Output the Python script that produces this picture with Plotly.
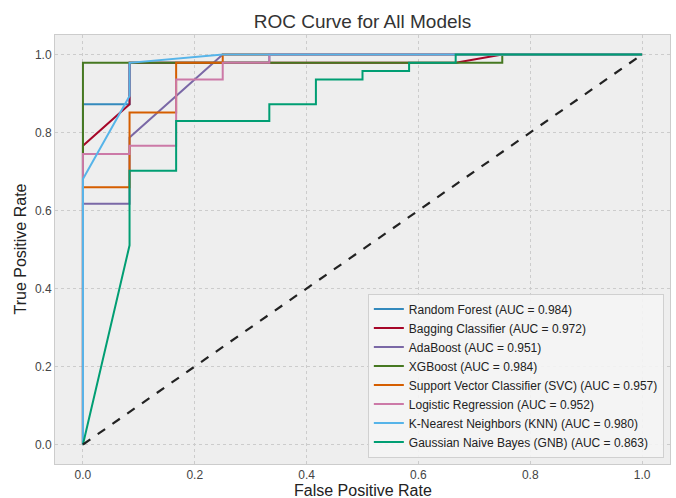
import plotly.graph_objects as go

# ROC data (FPR on 12 negatives, TPR on 47 positives)
model_names = ["Random Forest", "Bagging Classifier", "AdaBoost", "XGBoost",
               "Support Vector Classifier (SVC)", "Logistic Regression",
               "K-Nearest Neighbors (KNN)", "Gaussian Naive Bayes (GNB)"]
auc_values = [0.984, 0.972, 0.951, 0.984, 0.957, 0.952, 0.980, 0.863]

rf_fpr = [0, 0, 1/12, 1/12, 1/3, 1/3, 1]
rf_tpr = [0, 41/47, 41/47, 46/47, 46/47, 1, 1]

bag_fpr = [0, 0, 1/12, 1/12, 2/3, 3/4, 1]
bag_tpr = [0, 36/47, 41/47, 46/47, 46/47, 1, 1]

ada_fpr = [0, 0, 1/12, 1/12, 1/4, 1]
ada_tpr = [0, 29/47, 29/47, 37/47, 1, 1]

xgb_fpr = [0, 0, 3/4, 3/4, 1]
xgb_tpr = [0, 46/47, 46/47, 1, 1]

svc_fpr = [0, 0, 1/12, 1/12, 1/6, 1/6, 1/4, 1/4, 1]
svc_tpr = [0, 31/47, 31/47, 40/47, 40/47, 46/47, 46/47, 1, 1]

lr_fpr = [0, 0, 1/12, 1/12, 1/6, 1/6, 1/4, 1/4, 1/3, 1/3, 1]
lr_tpr = [0, 35/47, 35/47, 36/47, 36/47, 44/47, 44/47, 46/47, 46/47, 1, 1]

knn_fpr = [0, 0, 1/12, 1/12, 1/4, 1]
knn_tpr = [0, 32/47, 42/47, 46/47, 1, 1]

gnb_fpr = [0, 1/12, 1/12, 1/6, 1/6, 1/3, 1/3, 5/12, 5/12, 1/2, 1/2, 7/12, 7/12, 2/3, 2/3, 1]
gnb_tpr = [0, 24/47, 33/47, 33/47, 39/47, 39/47, 41/47, 41/47, 44/47, 44/47, 45/47, 45/47, 46/47, 46/47, 1, 1]

colors = ["#348ABD", "#A60628", "#7A68A6", "#467821", "#D55E00", "#CC79A7", "#56B4E9", "#009E73"]

curves = [(rf_fpr, rf_tpr), (bag_fpr, bag_tpr), (ada_fpr, ada_tpr), (xgb_fpr, xgb_tpr),
          (svc_fpr, svc_tpr), (lr_fpr, lr_tpr), (knn_fpr, knn_tpr), (gnb_fpr, gnb_tpr)]

x_ticks = [0.0, 0.2, 0.4, 0.6, 0.8, 1.0]
y_ticks = [0.0, 0.2, 0.4, 0.6, 0.8, 1.0]

fig = go.Figure()
for name, auc, col, (fx, ty) in zip(model_names, auc_values, colors, curves):
    fig.add_trace(go.Scatter(x=fx, y=ty, mode="lines",
                             name=f"{name} (AUC = {auc:.3f})",
                             line=dict(color=col, width=2)))
fig.add_trace(go.Scatter(x=[0, 1], y=[0, 1], mode="lines", showlegend=False,
                         line=dict(color="#222222", width=2.2, dash="dash")))

font = "Liberation Sans, Arial, sans-serif"
W, H = 676, 498
ml, mr, mt, mb = 55, 6, 35, 34
fig.update_layout(
    width=W, height=H,
    margin=dict(l=ml, r=mr, t=mt, b=mb, autoexpand=False),
    paper_bgcolor="white", plot_bgcolor="#EEEEEE",
    font=dict(family=font, color="#333333"),
    title=dict(text="ROC Curve for All Models", x=(ml + (W - ml - mr) / 2) / W, xanchor="center",
               y=1 - 21 / H, yanchor="middle", yref="container", automargin=False,
               font=dict(size=19, color="#333333")),
    showlegend=True,
    legend=dict(x=0.99, y=0.015, xanchor="right", yanchor="bottom",
                bgcolor="rgba(244,244,244,0.9)", bordercolor="#d0d0d0", borderwidth=1,
                font=dict(size=12, color="#222222"), itemwidth=30,
                tracegroupgap=0),
    annotations=[
        dict(text="False Positive Rate", xref="paper", yref="paper",
             x=0.5, y=-(490 - (H - mb)) / (H - mt - mb), xanchor="center", yanchor="middle",
             showarrow=False, font=dict(size=16, color="#222222")),
        dict(text="True Positive Rate", xref="paper", yref="paper",
             x=-(ml - 20) / (W - ml - mr), y=0.5, xanchor="center", yanchor="middle",
             textangle=-90, showarrow=False, font=dict(size=16, color="#222222")),
    ],
)
fig.update_xaxes(range=[-0.05, 1.05], tickvals=x_ticks, tickformat=".1f", automargin=False,
                 showgrid=True, gridcolor="#cccccc", griddash="dot", gridwidth=1,
                 zeroline=False, showline=True, linecolor="#cccccc", mirror=True,
                 ticks="", tickfont=dict(size=12, color="#444444"))
fig.update_yaxes(range=[-0.05, 1.05], tickvals=y_ticks, tickformat=".1f", automargin=False,
                 showgrid=True, gridcolor="#cccccc", griddash="dot", gridwidth=1,
                 zeroline=False, showline=True, linecolor="#cccccc", mirror=True,
                 ticks="", tickfont=dict(size=12, color="#444444"))

fig.write_html("out.html", config={"displayModeBar": False},
               post_script="document.body.style.margin='0';document.body.style.padding='0';document.body.style.overflow='hidden';")
